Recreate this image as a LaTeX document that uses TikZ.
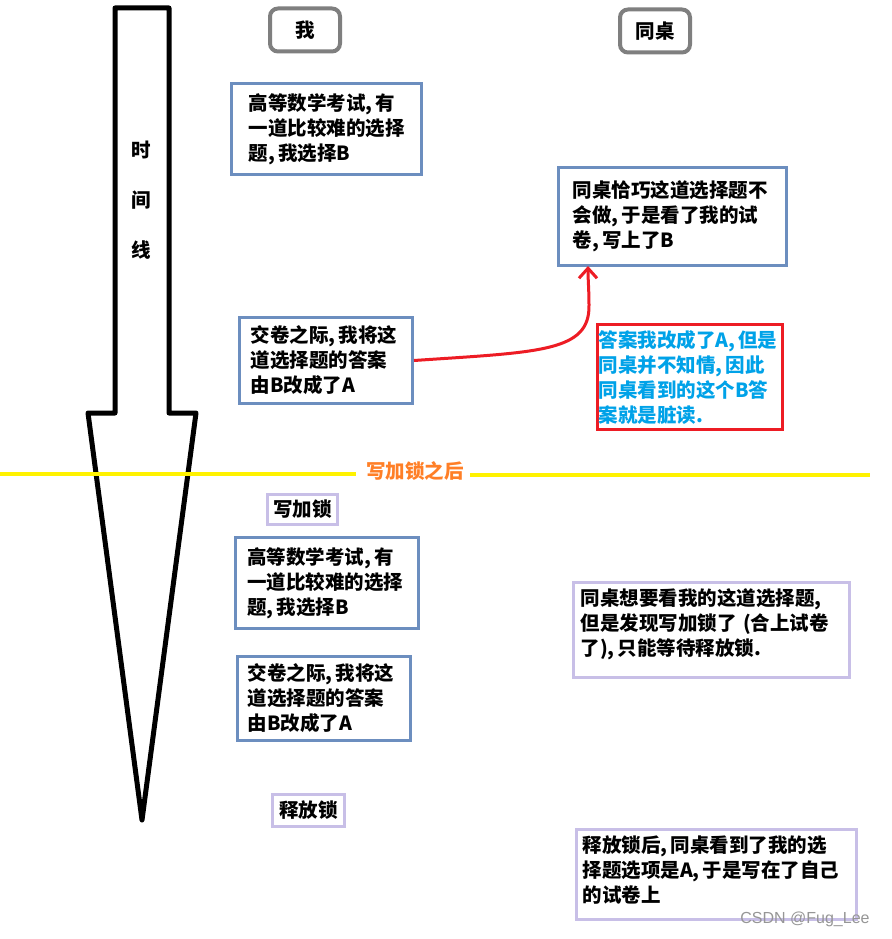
\documentclass[tikz,border=0pt]{standalone}
\usepackage{fontspec}
\setmainfont{Noto Sans CJK SC}
\newfontfamily\wmfont{Liberation Sans}
\usetikzlibrary{arrows.meta}
\definecolor{boxblue}{RGB}{108,142,191}
\definecolor{lav}{RGB}{200,191,231}
\definecolor{hdrgray}{RGB}{127,127,127}
\definecolor{redline}{RGB}{237,28,36}
\definecolor{cyantext}{RGB}{0,162,232}
\definecolor{orangetext}{RGB}{255,127,39}
\definecolor{yel}{RGB}{255,242,0}
\definecolor{wmgray}{RGB}{150,150,150}
\tikzset{
  txt/.style={font=\fontsize{19.5}{25}\selectfont\bfseries},
  bluebox/.style={txt, draw=boxblue, line width=3pt, anchor=north west, align=left, inner ysep=0pt},
  lavbox/.style={txt, draw=lav, line width=3pt, anchor=north west, align=left, inner ysep=0pt},
  redbox/.style={txt, draw=redline, line width=3pt, anchor=north west, align=left, inner ysep=0pt, text=cyantext},
  hdr/.style={txt, draw=hdrgray, line width=4pt, rounded corners=8pt, minimum width=70pt, minimum height=43pt, inner sep=0pt},
  timeline/.style={draw=black, line width=5pt, line join=round},
  yline/.style={draw=yel, line width=3.5pt},
  redarrow/.style={draw=redline, line width=3pt, -{Straight Barb[length=10pt,width=18pt]}},
}
\begin{document}
\begin{tikzpicture}[x=1pt,y=-1pt]
\useasboundingbox[fill=white] (0,0) rectangle (891,939);

% time arrow
\draw[timeline] (115,8) -- (169,8) -- (169,413) -- (196,413) -- (142,820) -- (88,413) -- (115,413) -- cycle;
\node[txt] (t1) at (141,150) {时};
\node[txt] (t2) at (141,200) {间};
\node[txt] (t3) at (141,250) {线};

% headers
\node[hdr] (me) at (305,30) {我};
\node[hdr] (mate) at (655,31) {同桌};

% upper part
\node[bluebox, minimum width=190pt, minimum height=91pt, text width=156pt, inner xsep=17pt] (b1) at (230,82)
  {高等数学考试,\,有\\一道比较难的选择\\题,\,我选择B};
\node[bluebox, minimum width=228pt, minimum height=98pt, text width=200pt, inner xsep=14pt] (b2) at (557,166)
  {同桌恰巧这道选择题不\\会做,\,于是看了我的试\\卷,\,写上了B};
\node[bluebox, minimum width=173pt, minimum height=86pt, text width=151pt, inner xsep=11pt] (b3) at (238,316)
  {交卷之际,\,我将这\\道选择题的答案\\由B改成了A};
\node[redbox, minimum width=185pt, minimum height=105pt, text width=183pt, inner xsep=1pt] (rb) at (596,323)
  {答案我改成了A,\,但是\\同桌并不知情,\,因此\\同桌看到的这个B答\\案就是脏读.};

\coordinate (arrtip) at (588,266);
\draw[redarrow] (b3.east) .. controls (540,352) and (590,352) .. (589,305) .. controls (589,290) and (588,280) .. (arrtip);

% divider
\node[txt, text=orangetext, inner sep=0pt] (after) at (415,471) {写加锁之后};
\coordinate (yl) at (0,474);
\coordinate (yr) at (870,475);
\draw[yline] (yl) -- ([xshift=-10pt]after.west |- yl);
\draw[yline] ([xshift=6pt]after.east |- yr) -- (yr);

% lower part
\node[lavbox, minimum width=70pt, minimum height=30pt, inner xsep=2pt] (lock) at (266,493) {写加锁};
\node[bluebox, minimum width=183pt, minimum height=91pt, text width=160pt, inner xsep=11.5pt] (b4) at (234,536)
  {高等数学考试,\,有\\一道比较难的选择\\题,\,我选择B};
\node[bluebox, minimum width=173pt, minimum height=84pt, text width=153pt, inner xsep=10pt] (b5) at (236,655)
  {交卷之际,\,我将这\\道选择题的答案\\由B改成了A};
\node[lavbox, minimum width=276pt, minimum height=95pt, text width=262pt, inner xsep=7pt] (b6) at (572,581)
  {同桌想要看我的这道选择题,\\但是发现写加锁了 (合上试卷\\了),\,只能等待释放锁.\\[-9pt]\mbox{}};
\node[lavbox, minimum width=72pt, minimum height=32pt, inner xsep=2pt] (release) at (271,793) {释放锁};
\node[lavbox, minimum width=280pt, minimum height=90pt, text width=268pt, inner xsep=6pt] (b7) at (575,828)
  {释放锁后,\,同桌看到了我的选\\择题选项是A,\,于是写在了自己\\的试卷上\\[-15pt]\mbox{}};

% watermark
\node[font=\wmfont\fontsize{16}{18}\selectfont, text=wmgray, inner sep=0pt] (wm) at (805,919) {CSDN @Fug\_Lee};
\end{tikzpicture}
\end{document}
